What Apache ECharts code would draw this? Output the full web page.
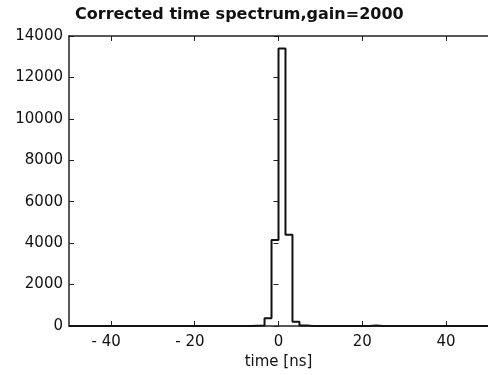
<!DOCTYPE html>
<html>
<head>
<meta charset="utf-8">
<script src="https://cdn.jsdelivr.net/npm/echarts@6/dist/echarts.min.js"></script>
<style>html,body{margin:0;padding:0;background:#fff;}#c{width:488px;height:375px;}</style>
</head>
<body>
<div id="c"></div>
<script>
// Histogram: 60 bins from -50 ns, width 5/3 ns
var binStart = -50;
var binWidth = 100 / 60;
var counts = [
  0,0,0,0,0,0,0,0,0,0,
  0,0,0,0,0,0,0,0,0,0,
  0,0,0,0,0,0,15,20,380,4150,
  13400,4400,200,30,0,0,0,0,0,0,
  0,0,0,25,0,0,0,0,0,0,
  0,0,0,0,0,0,0,0,0,0
];
var xTicks = [-40, -20, 0, 20, 40];
var yTicks = [0, 2000, 4000, 6000, 8000, 10000, 12000, 14000];
var titleText = 'Corrected time spectrum,gain=2000';
var xName = 'time [ns]';

var pts = [];
for (var i = 0; i < counts.length; i++) {
  var l = binStart + i * binWidth, r = l + binWidth;
  pts.push([l, counts[i]]);
  pts.push([r, counts[i]]);
}

var axisCol = '#222';
var font = 'DejaVu Sans';
var chart = echarts.init(document.getElementById('c'));
chart.setOption({
  animation: false,
  backgroundColor: '#fff',
  title: {
    text: titleText, left: 70, top: 2,
    textStyle: {fontFamily: 'DejaVu Sans', fontWeight: 'bold', fontSize: 16, color: '#111'}
  },
  grid: {left: 69, right: -1, top: 36, bottom: 47},
  xAxis: [{
    type: 'value', min: -50, max: 50, position: 'bottom',
    axisLine: {show: true, onZero: false, lineStyle: {color: axisCol, width: 1.5}},
    axisTick: {show: true, inside: true, length: 5, customValues: xTicks, lineStyle: {color: axisCol}},
    axisLabel: {customValues: xTicks, fontFamily: font, fontSize: 15, color: '#111', margin: 9,
      formatter: function (v) { return v < 0 ? '- ' + Math.abs(v) + '\u2007' : String(v); }},
    splitLine: {show: false},
    name: xName, nameLocation: 'middle', nameGap: 29,
    nameTextStyle: {fontFamily: font, fontSize: 15, color: '#111'}
  }, {
    type: 'value', min: -50, max: 50, position: 'top',
    axisLine: {show: true, onZero: false, lineStyle: {color: axisCol, width: 1.5}},
    axisTick: {show: true, inside: true, length: 5, customValues: xTicks, lineStyle: {color: axisCol}},
    axisLabel: {show: false}, splitLine: {show: false}
  }],
  yAxis: [{
    type: 'value', min: 0, max: 14000, interval: 2000, position: 'left',
    axisLine: {show: true, onZero: false, lineStyle: {color: axisCol, width: 1.5}},
    axisTick: {show: true, inside: true, length: 5, lineStyle: {color: axisCol}},
    axisLabel: {fontFamily: font, fontSize: 15, color: '#111', margin: 6,
      formatter: function (v) { return String(v); }},
    splitLine: {show: false}
  }, {
    type: 'value', min: 0, max: 14000, interval: 2000, position: 'right',
    axisLine: {show: false},
    axisTick: {show: true, inside: true, length: 5, lineStyle: {color: axisCol}},
    axisLabel: {show: false}, splitLine: {show: false}
  }],
  series: [{
    type: 'line', data: pts, showSymbol: false, symbol: 'none',
    lineStyle: {color: '#111', width: 2}, z: 3
  }]
});
</script>
</body>
</html>
